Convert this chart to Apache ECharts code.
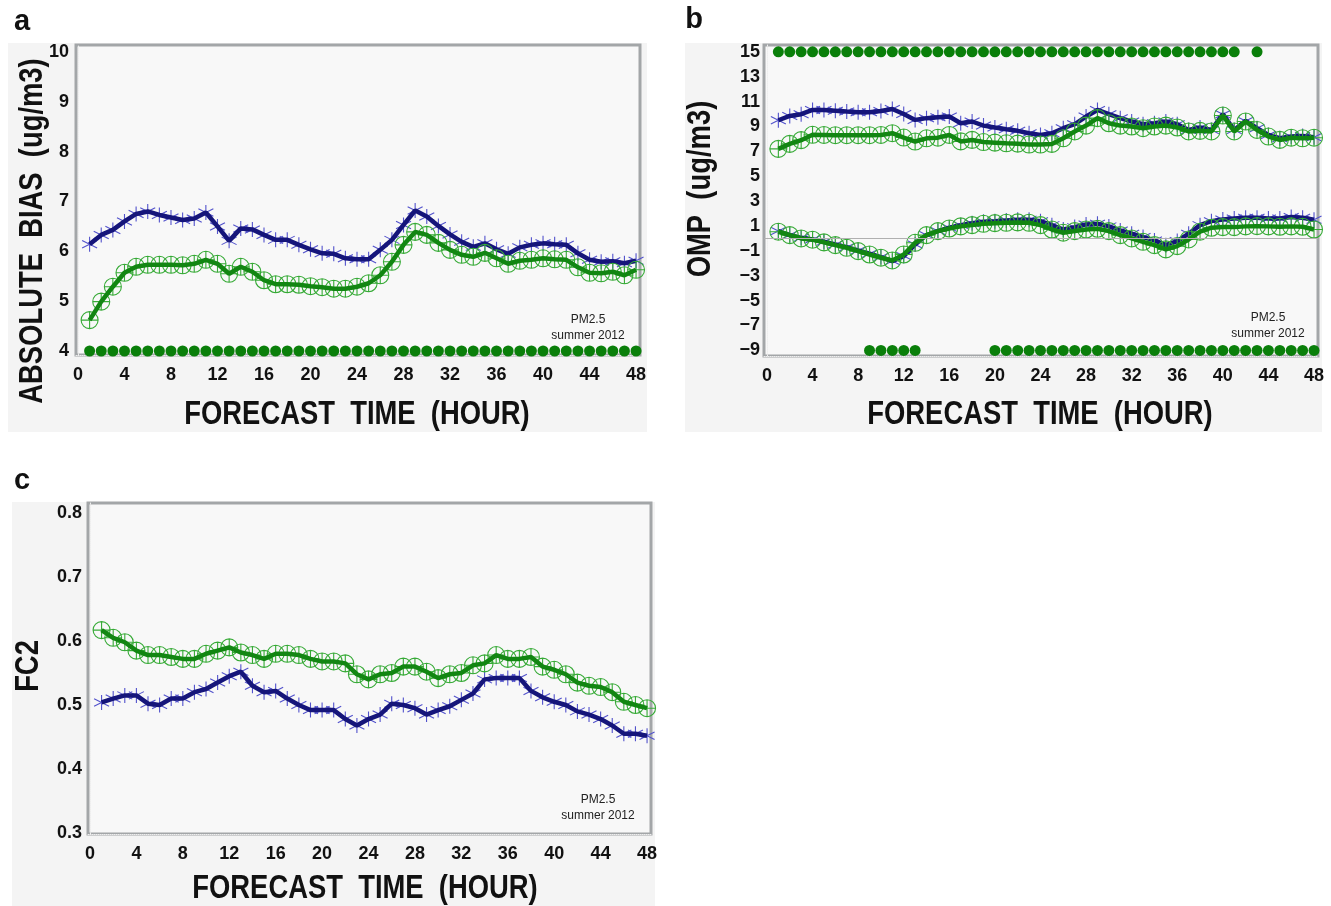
<!DOCTYPE html>
<html>
<head>
<meta charset="utf-8">
<script src="https://cdn.jsdelivr.net/npm/echarts@6/dist/echarts.min.js"></script>
<style>
  html, body { margin: 0; padding: 0; background: #fff; }
  #chart { width: 1331px; height: 906px; }
</style>
</head>
<body>
<div id="chart"></div>
<script>
// forecast hours
const hours = [1, 2, 3, 4, 5, 6, 7, 8, 9, 10, 11, 12, 13, 14, 15, 16, 17, 18, 19, 20, 21, 22, 23, 24,
  25, 26, 27, 28, 29, 30, 31, 32, 33, 34, 35, 36, 37, 38, 39, 40, 41, 42, 43, 44, 45, 46, 47, 48]
const hourTicks = [0, 4, 8, 12, 16, 20, 24, 28, 32, 36, 40, 44, 48]

// panel a: absolute bias
const absBiasBlue = [6.14, 6.33, 6.43, 6.60, 6.75, 6.80, 6.73, 6.68, 6.63, 6.66,
  6.78, 6.50, 6.21, 6.46, 6.44, 6.33, 6.23, 6.23, 6.13, 6.04,
  5.96, 5.95, 5.86, 5.84, 5.84, 6.03, 6.23, 6.53, 6.82, 6.70,
  6.51, 6.34, 6.19, 6.09, 6.16, 6.04, 5.95, 6.08, 6.13, 6.16,
  6.14, 6.13, 5.96, 5.83, 5.79, 5.80, 5.76, 5.81]
const absBiasGreen = [4.62, 4.99, 5.29, 5.57, 5.69, 5.73, 5.73, 5.73, 5.72, 5.75,
  5.83, 5.75, 5.55, 5.69, 5.59, 5.42, 5.34, 5.34, 5.33, 5.30,
  5.28, 5.25, 5.25, 5.29, 5.36, 5.52, 5.79, 6.13, 6.39, 6.33,
  6.17, 6.03, 5.93, 5.89, 5.97, 5.86, 5.75, 5.81, 5.83, 5.86,
  5.84, 5.83, 5.68, 5.57, 5.56, 5.59, 5.52, 5.63]
const sigHoursA = [1, 2, 3, 4, 5, 6, 7, 8, 9, 10, 11, 12, 13, 14, 15, 16, 17, 18, 19, 20, 21, 22, 23, 24,
  25, 26, 27, 28, 29, 30, 31, 32, 33, 34, 35, 36, 37, 38, 39, 40, 41, 42, 43, 44, 45, 46, 47, 48]
const absBiasTicks = [4, 5, 6, 7, 8, 9, 10]

// panel b: OMP
const ompBlueUpper = [9.50, 9.85, 9.99, 10.33, 10.33, 10.27, 10.20, 10.15, 10.15, 10.25,
  10.41, 10.00, 9.53, 9.67, 9.75, 9.80, 9.26, 9.40, 9.07, 8.92,
  8.78, 8.65, 8.46, 8.32, 8.46, 8.86, 9.18, 9.80, 10.33, 9.99,
  9.67, 9.40, 9.18, 9.26, 9.40, 9.18, 8.72, 8.92, 8.72, 9.99,
  8.72, 9.45, 8.86, 8.32, 8.06, 8.19, 8.24, 8.13]
const ompGreenUpper = [7.20, 7.60, 7.90, 8.33, 8.32, 8.30, 8.30, 8.30, 8.30, 8.32,
  8.46, 8.11, 7.79, 8.05, 8.10, 8.32, 7.80, 7.92, 7.75, 7.70,
  7.65, 7.62, 7.55, 7.55, 7.60, 8.05, 8.60, 9.07, 9.67, 9.26,
  9.07, 9.00, 8.86, 9.00, 9.07, 8.92, 8.60, 8.65, 8.60, 9.88,
  8.60, 9.40, 8.72, 8.19, 7.92, 8.10, 8.05, 8.10]
const ompBlueLower = [0.59, 0.27, 0.05, -0.08, -0.27, -0.48, -0.70, -0.97, -1.23, -1.50,
  -1.82, -1.42, -0.48, 0.27, 0.59, 0.86, 1.07, 1.23, 1.34, 1.39,
  1.45, 1.50, 1.50, 1.39, 1.07, 0.72, 0.91, 1.13, 1.18, 0.97,
  0.64, 0.38, 0.11, -0.16, -0.54, -0.21, 0.38, 1.07, 1.39, 1.53,
  1.61, 1.66, 1.66, 1.61, 1.61, 1.72, 1.66, 1.50]
const ompGreenLower = [0.54, 0.27, 0.00, -0.10, -0.32, -0.54, -0.75, -1.02, -1.29, -1.55,
  -1.77, -1.29, -0.35, 0.27, 0.59, 0.80, 0.97, 1.07, 1.18, 1.23,
  1.26, 1.29, 1.26, 1.07, 0.72, 0.46, 0.59, 0.72, 0.78, 0.59,
  0.27, 0.00, -0.27, -0.54, -0.88, -0.62, -0.08, 0.54, 0.86, 0.91,
  0.91, 0.97, 0.99, 0.97, 0.94, 0.97, 0.94, 0.72]
const sigTopB = [1, 2, 3, 4, 5, 6, 7, 8, 9, 10, 11, 12, 13, 14, 15, 16, 17, 18, 19, 20, 21,
  22, 23, 24, 25, 26, 27, 28, 29, 30, 31, 32, 33, 34, 35, 36, 37, 38, 39, 40, 41, 43]
const sigBottomB = [9, 10, 11, 12, 13, 20, 21, 22, 23, 24, 25, 26, 27, 28, 29, 30, 31, 32, 33,
  34, 35, 36, 37, 38, 39, 40, 41, 42, 43, 44, 45, 46, 47, 48]
const ompTicks = [-9, -7, -5, -3, -1, 1, 3, 5, 7, 9, 11, 13, 15]

// panel c: FC2
const fc2Green = [0.617, 0.605, 0.598, 0.585, 0.578, 0.578, 0.575, 0.572, 0.572, 0.580,
  0.585, 0.590, 0.582, 0.578, 0.572, 0.580, 0.580, 0.578, 0.572, 0.568,
  0.568, 0.565, 0.548, 0.540, 0.548, 0.550, 0.560, 0.560, 0.552, 0.542,
  0.548, 0.550, 0.562, 0.565, 0.578, 0.572, 0.572, 0.575, 0.560, 0.555,
  0.548, 0.535, 0.530, 0.528, 0.520, 0.505, 0.500, 0.495]
const fc2Blue = [0.504, 0.510, 0.515, 0.515, 0.502, 0.500, 0.510, 0.510, 0.520, 0.525,
  0.535, 0.545, 0.552, 0.530, 0.520, 0.522, 0.510, 0.500, 0.492, 0.492,
  0.492, 0.478, 0.468, 0.478, 0.485, 0.502, 0.500, 0.495, 0.485, 0.492,
  0.498, 0.508, 0.518, 0.540, 0.542, 0.542, 0.542, 0.522, 0.512, 0.505,
  0.500, 0.490, 0.485, 0.478, 0.468, 0.455, 0.455, 0.452]
const fc2Ticks = [0.3, 0.4, 0.5, 0.6, 0.7, 0.8]

const BOLD = "'Liberation Sans', Arial, sans-serif"
const PLAIN = "'Liberation Sans', Arial, sans-serif"
const BLUE_LINE = '#15157a'
const BLUE_MARK = '#5252cc'
const GREEN_LINE = '#128612'
const GREEN_MARK = '#36aa36'
const DOT = '#0a7f0a'
const FRAME = '#a3a6a8'

const ASTERISK = 'path://M0,-10L0,10M-8.66,-5L8.66,5M-8.66,5L8.66,-5'
const CIRCLE_PLUS = 'path://M10,0A10,10,0,1,1,-10,0A10,10,0,1,1,10,0ZM0,-10L0,10M-10,0L10,0'

const pairs = (vals) => hours.map((h, i) => [h, vals[i]])

const lineSeries = (idx, vals, color, z) => ({
  type: 'line', xAxisIndex: idx, yAxisIndex: idx, data: pairs(vals),
  showSymbol: false, lineStyle: { color, width: 4.5 }, z
})

const markSeries = (idx, vals, symbol, size, color, z) => ({
  type: 'scatter', xAxisIndex: idx, yAxisIndex: idx, data: pairs(vals),
  symbol, symbolSize: size, clip: false,
  itemStyle: { color: 'rgba(0,0,0,0)', borderColor: color, borderWidth: 1.1, opacity: 1 }, z
})

const dotSeries = (idx, hrs, y) => ({
  type: 'scatter', xAxisIndex: idx, yAxisIndex: idx, data: hrs.map(h => [h, y]),
  symbol: 'circle', symbolSize: 11, clip: false,
  itemStyle: { color: DOT, opacity: 1 }, z: 6
})

const labelStyle = { fontFamily: BOLD, fontWeight: 'bold', fontSize: 18, color: '#111' }

const xAxis = (idx, min, max) => ({
  gridIndex: idx, type: 'value', min, max,
  axisLine: { show: true, onZero: false, lineStyle: { color: '#eeeeee', width: 1, type: 'dotted' } },
  axisTick: { show: false },
  splitLine: { show: false },
  axisLabel: Object.assign({ customValues: hourTicks, margin: 11 }, labelStyle)
})

const yAxis = (idx, min, max, ticks, margin, fmt) => ({
  gridIndex: idx, type: 'value', min, max,
  axisLine: { show: true, lineStyle: { color: '#eeeeee', width: 1, type: 'dotted' } },
  axisTick: { show: false },
  splitLine: { show: false },
  axisLabel: Object.assign({ customValues: ticks, margin, formatter: fmt }, labelStyle)
})

const gridStyle = { show: true, borderColor: FRAME, borderWidth: 3, backgroundColor: '#f8f8f8' }

// titles are drawn condensed, like the original narrow face
const title = (x, y, text, rotation) => ({
  type: 'text', x, y, rotation: rotation || 0, scaleX: 0.83, z: 10,
  style: { text, font: 'bold 33px ' + BOLD, fill: '#111', align: 'center', verticalAlign: 'middle' }
})

const letter = (x, y, text) => ({
  type: 'text', x, y, z: 10,
  style: { text, font: 'bold 29px ' + BOLD, fill: '#111', align: 'center', verticalAlign: 'middle' }
})

const note = (x, y) => ({
  type: 'text', x, y, z: 10,
  style: {
    text: 'PM2.5\nsummer 2012', font: '12px ' + PLAIN, fill: '#222',
    align: 'center', verticalAlign: 'middle', lineHeight: 16
  }
})

const chart = echarts.init(document.getElementById('chart'))

chart.setOption({
  animation: false,
  backgroundColor: '#ffffff',
  grid: [
    Object.assign({ left: 76, top: 45, width: 564, height: 310 }, gridStyle),
    Object.assign({ left: 764, top: 45, width: 554, height: 311 }, gridStyle),
    Object.assign({ left: 88, top: 503, width: 563, height: 331 }, gridStyle)
  ],
  xAxis: [
    xAxis(0, -0.17, 48.34),
    xAxis(1, -0.26, 48.35),
    xAxis(2, -0.17, 48.34)
  ],
  yAxis: [
    yAxis(0, 3.92, 10.14, absBiasTicks, 7, v => String(v)),
    yAxis(1, -9.45, 15.55, ompTicks, 4, v => (v < 0 ? '\u2212' + Math.abs(v) : String(v))),
    yAxis(2, 0.2984, 0.8156, fc2Ticks, 6, v => v.toFixed(1))
  ],
  graphic: [
    { type: 'rect', shape: { x: 8, y: 43, width: 639, height: 389 }, style: { fill: '#f4f4f4' }, z: -10 },
    { type: 'rect', shape: { x: 685, y: 43, width: 637, height: 389 }, style: { fill: '#f4f4f4' }, z: -10 },
    { type: 'rect', shape: { x: 12, y: 502, width: 643, height: 404 }, style: { fill: '#f4f4f4' }, z: -10 },
    letter(22, 22, 'a'),
    letter(694, 20, 'b'),
    letter(22, 481, 'c'),
    title(33, 231, 'ABSOLUTE  BIAS  (ug/m3)', Math.PI / 2),
    title(701, 189, 'OMP  (ug/m3)', Math.PI / 2),
    title(29, 666, 'FC2', Math.PI / 2),
    title(357, 415, 'FORECAST  TIME  (HOUR)'),
    title(1040, 415, 'FORECAST  TIME  (HOUR)'),
    title(365, 889, 'FORECAST  TIME  (HOUR)'),
    note(588, 328),
    note(1268, 326),
    note(598, 808)
  ],
  series: [
    // a
    markSeries(0, absBiasBlue, ASTERISK, 15, BLUE_MARK, 1),
    lineSeries(0, absBiasBlue, BLUE_LINE, 2),
    markSeries(0, absBiasGreen, CIRCLE_PLUS, 17, GREEN_MARK, 3),
    lineSeries(0, absBiasGreen, GREEN_LINE, 4),
    dotSeries(0, sigHoursA, 4),
    // b
    Object.assign(markSeries(1, ompBlueLower, ASTERISK, 15, BLUE_MARK, 1), {
      markLine: {
        silent: true, symbol: 'none', label: { show: false },
        lineStyle: { color: '#b0b0b0', width: 1, type: 'solid' },
        data: [{ yAxis: 0 }]
      }
    }),
    markSeries(1, ompBlueUpper, ASTERISK, 15, BLUE_MARK, 1),
    lineSeries(1, ompBlueUpper, BLUE_LINE, 2),
    lineSeries(1, ompBlueLower, BLUE_LINE, 2),
    markSeries(1, ompGreenUpper, CIRCLE_PLUS, 17, GREEN_MARK, 3),
    markSeries(1, ompGreenLower, CIRCLE_PLUS, 17, GREEN_MARK, 3),
    lineSeries(1, ompGreenUpper, GREEN_LINE, 4),
    lineSeries(1, ompGreenLower, GREEN_LINE, 4),
    dotSeries(1, sigTopB, 15),
    dotSeries(1, sigBottomB, -9),
    // c
    markSeries(2, fc2Blue, ASTERISK, 15, BLUE_MARK, 1),
    lineSeries(2, fc2Blue, BLUE_LINE, 2),
    markSeries(2, fc2Green, CIRCLE_PLUS, 17, GREEN_MARK, 3),
    lineSeries(2, fc2Green, GREEN_LINE, 4)
  ]
})
</script>
</body>
</html>
